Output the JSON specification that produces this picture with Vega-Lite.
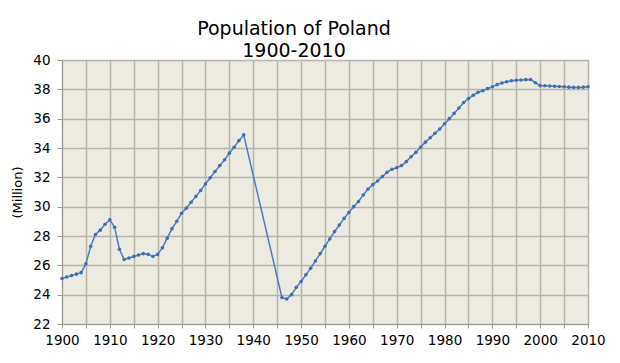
{
  "$schema": "https://vega.github.io/schema/vega-lite/v6.json",
  "width": 526,
  "height": 264,
  "autosize": {"type": "none"},
  "padding": {"left": 62, "top": 60, "right": 32, "bottom": 39},
  "background": "white",
  "title": {
    "text": ["Population of Poland", "1900-2010"],
    "font": "DejaVu Sans",
    "fontSize": 19,
    "fontWeight": "normal",
    "color": "black",
    "anchor": "middle",
    "dx": -31,
    "offset": -8,
    "lineHeight": 22
  },
  "config": {
    "view": {"fill": "#EDEAE2", "stroke": "#B4B0A8", "strokeWidth": 1},
    "axis": {
      "labelFont": "DejaVu Sans",
      "labelFontSize": 13.5,
      "labelColor": "black",
      "titleFont": "DejaVu Sans",
      "titleFontSize": 13,
      "titleFontWeight": "normal",
      "titleColor": "black",
      "gridColor": "#B8B4AC",
      "gridOpacity": 1,
      "gridWidth": 1.5,
      "domainColor": "#A09C94",
      "tickColor": "#A09C94"
    }
  },
  "data": {
    "values": [
      {"year": 1900, "pop": 25.1}, {"year": 1901, "pop": 25.2}, {"year": 1902, "pop": 25.3}, {"year": 1903, "pop": 25.4}, {"year": 1904, "pop": 25.5},
      {"year": 1905, "pop": 26.1}, {"year": 1906, "pop": 27.3}, {"year": 1907, "pop": 28.1}, {"year": 1908, "pop": 28.4}, {"year": 1909, "pop": 28.8},
      {"year": 1910, "pop": 29.1}, {"year": 1911, "pop": 28.6}, {"year": 1912, "pop": 27.1}, {"year": 1913, "pop": 26.4}, {"year": 1914, "pop": 26.5},
      {"year": 1915, "pop": 26.6}, {"year": 1916, "pop": 26.7}, {"year": 1917, "pop": 26.8}, {"year": 1918, "pop": 26.75}, {"year": 1919, "pop": 26.6},
      {"year": 1920, "pop": 26.75}, {"year": 1921, "pop": 27.2}, {"year": 1922, "pop": 27.85}, {"year": 1923, "pop": 28.5}, {"year": 1924, "pop": 29.0},
      {"year": 1925, "pop": 29.55}, {"year": 1926, "pop": 29.9}, {"year": 1927, "pop": 30.3}, {"year": 1928, "pop": 30.7}, {"year": 1929, "pop": 31.1},
      {"year": 1930, "pop": 31.55}, {"year": 1931, "pop": 31.97}, {"year": 1932, "pop": 32.4}, {"year": 1933, "pop": 32.8}, {"year": 1934, "pop": 33.2},
      {"year": 1935, "pop": 33.65}, {"year": 1936, "pop": 34.05}, {"year": 1937, "pop": 34.5}, {"year": 1938, "pop": 34.9},
      {"year": 1946, "pop": 23.8}, {"year": 1947, "pop": 23.7}, {"year": 1948, "pop": 24.0}, {"year": 1949, "pop": 24.5},
      {"year": 1950, "pop": 24.9}, {"year": 1951, "pop": 25.35}, {"year": 1952, "pop": 25.8}, {"year": 1953, "pop": 26.3}, {"year": 1954, "pop": 26.8},
      {"year": 1955, "pop": 27.3}, {"year": 1956, "pop": 27.8}, {"year": 1957, "pop": 28.3}, {"year": 1958, "pop": 28.75}, {"year": 1959, "pop": 29.2},
      {"year": 1960, "pop": 29.6}, {"year": 1961, "pop": 30.0}, {"year": 1962, "pop": 30.35}, {"year": 1963, "pop": 30.8}, {"year": 1964, "pop": 31.2},
      {"year": 1965, "pop": 31.5}, {"year": 1966, "pop": 31.75}, {"year": 1967, "pop": 32.05}, {"year": 1968, "pop": 32.35}, {"year": 1969, "pop": 32.55},
      {"year": 1970, "pop": 32.65}, {"year": 1971, "pop": 32.8}, {"year": 1972, "pop": 33.07}, {"year": 1973, "pop": 33.4}, {"year": 1974, "pop": 33.7},
      {"year": 1975, "pop": 34.05}, {"year": 1976, "pop": 34.4}, {"year": 1977, "pop": 34.7}, {"year": 1978, "pop": 35.0}, {"year": 1979, "pop": 35.3},
      {"year": 1980, "pop": 35.65}, {"year": 1981, "pop": 36.0}, {"year": 1982, "pop": 36.36}, {"year": 1983, "pop": 36.73}, {"year": 1984, "pop": 37.1},
      {"year": 1985, "pop": 37.37}, {"year": 1986, "pop": 37.6}, {"year": 1987, "pop": 37.8}, {"year": 1988, "pop": 37.9}, {"year": 1989, "pop": 38.05},
      {"year": 1990, "pop": 38.18}, {"year": 1991, "pop": 38.32}, {"year": 1992, "pop": 38.43}, {"year": 1993, "pop": 38.52}, {"year": 1994, "pop": 38.59},
      {"year": 1995, "pop": 38.62}, {"year": 1996, "pop": 38.64}, {"year": 1997, "pop": 38.66}, {"year": 1998, "pop": 38.67}, {"year": 1999, "pop": 38.45},
      {"year": 2000, "pop": 38.25}, {"year": 2001, "pop": 38.24}, {"year": 2002, "pop": 38.23}, {"year": 2003, "pop": 38.21}, {"year": 2004, "pop": 38.19},
      {"year": 2005, "pop": 38.17}, {"year": 2006, "pop": 38.15}, {"year": 2007, "pop": 38.13}, {"year": 2008, "pop": 38.13}, {"year": 2009, "pop": 38.15},
      {"year": 2010, "pop": 38.18}
    ]
  },
  "mark": {
    "type": "line",
    "color": "#4A7EBB",
    "strokeWidth": 1.5,
    "point": {"filled": true, "size": 13, "color": "#3F6FAE"}
  },
  "encoding": {
    "x": {
      "field": "year",
      "type": "quantitative",
      "scale": {"domain": [1900, 2010], "nice": false, "zero": false},
      "axis": {
        "title": null,
        "values": [1900, 1905, 1910, 1915, 1920, 1925, 1930, 1935, 1940, 1945, 1950, 1955, 1960, 1965, 1970, 1975, 1980, 1985, 1990, 1995, 2000, 2005, 2010],
        "labelExpr": "datum.value % 10 == 0 ? datum.label : ''",
        "format": "d",
        "tickSize": 4,
        "labelPadding": 5,
        "labelFlush": false,
        "labelOverlap": false
      }
    },
    "y": {
      "field": "pop",
      "type": "quantitative",
      "scale": {"domain": [22, 40], "nice": false, "zero": false},
      "axis": {
        "title": "(Million)",
        "values": [22, 24, 26, 28, 30, 32, 34, 36, 38, 40],
        "tickSize": 5,
        "labelPadding": 7,
        "titlePadding": 8
      }
    }
  }
}
